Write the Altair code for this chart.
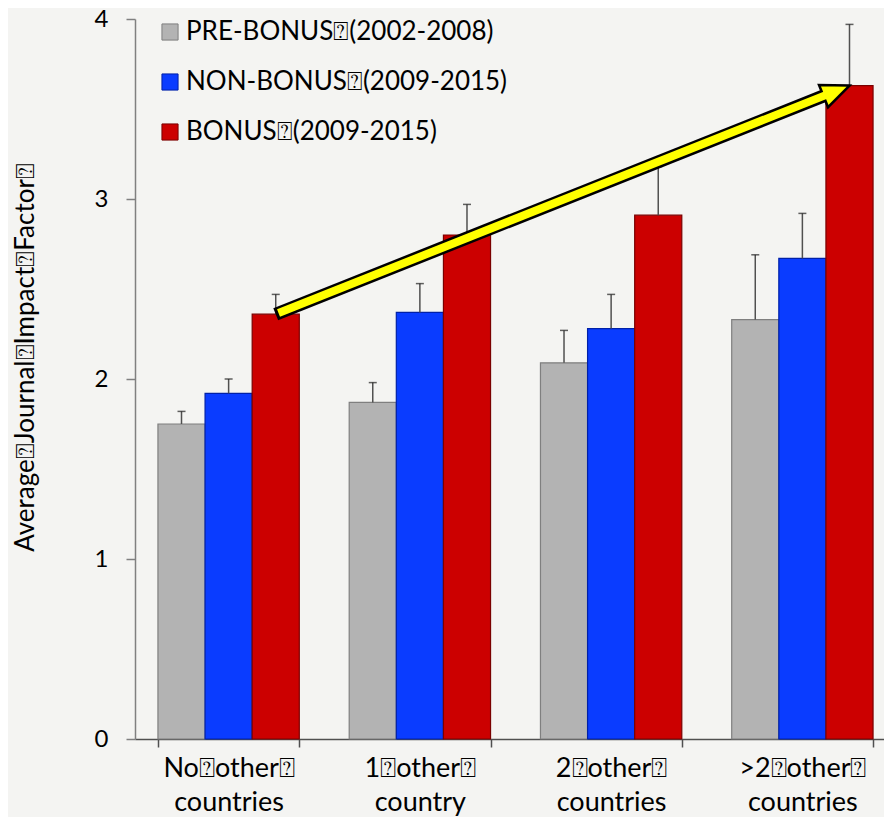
import altair as alt
import pandas as pd

groups = ["No⍰other⍰\ncountries", "1⍰other⍰\ncountry", "2⍰other⍰\ncountries", ">2⍰other⍰\ncountries"]
series = ["PRE-BONUS⍰(2002-2008)", "NON-BONUS⍰(2009-2015)", "BONUS⍰(2009-2015)"]
pre_bonus = [1.75, 1.87, 2.09, 2.33]
pre_bonus_err = [0.07, 0.11, 0.18, 0.36]
non_bonus = [1.92, 2.37, 2.28, 2.67]
non_bonus_err = [0.08, 0.16, 0.19, 0.25]
bonus = [2.36, 2.80, 2.91, 3.63]
bonus_err = [0.11, 0.17, 0.27, 0.34]
colors = ["#b3b3b3", "#0a3cff", "#cc0000"]
edge_colors = ["#7f7f7f", "#0020a8", "#7a0000"]
y_ticks = [0, 1, 2, 3, 4]
y_title = "Average⍰Journal⍰Impact⍰Factor⍰"

rows = []
for vals, errs, s in zip([pre_bonus, non_bonus, bonus], [pre_bonus_err, non_bonus_err, bonus_err], series):
    for g, v, e in zip(groups, vals, errs):
        rows.append({"group": g, "series": s, "value": v, "upper": v + e})
df = pd.DataFrame(rows)

arrow_df = pd.DataFrame({"group": [groups[0], groups[-1]], "series": [series[2], series[2]],
                         "value": [bonus[0], bonus[-1]]})
head_df = arrow_df.iloc[[1]]

FONT = "Lato"

x_enc = alt.X("group:N", sort=groups, title=None,
              scale=alt.Scale(paddingInner=0.261, paddingOuter=0.12, range=[0, 761]),
              axis=alt.Axis(labelExpr="split(datum.label, '\\n')", labelAngle=0,
                            labelFontSize=27, labelFont=FONT, labelColor="black",
                            labelLineHeight=34, labelPadding=8, tickBand="extent",
                            tickSize=8, tickColor="#505050", domainColor="#505050",
                            domainWidth=1.5, tickWidth=1.5))
xo_enc = alt.XOffset("series:N", sort=series)
y_scale = alt.Scale(domain=[0, 4])

bars = alt.Chart(df).mark_bar(strokeWidth=1.2).encode(
    x=x_enc, xOffset=xo_enc,
    y=alt.Y("value:Q", scale=y_scale, title=y_title,
            axis=alt.Axis(values=y_ticks, format="d", grid=False, labelFontSize=24, labelFont=FONT,
                          labelColor="black", labelPadding=18, tickSize=9,
                          tickColor="#808080", domainColor="#808080", domainWidth=1.5,
                          tickWidth=1.5, titleFont=FONT, titleFontSize=26,
                          titleFontWeight="normal", titleColor="black",
                          titleX=-110, titleY=338, titleAlign="center",
                          titleBaseline="middle")),
    color=alt.Color("series:N", sort=series, scale=alt.Scale(domain=series, range=colors),
                    legend=alt.Legend(title=None, orient="none", legendX=22, legendY=0,
                                      symbolType="square", symbolSize=260,
                                      symbolStrokeColor="#555555", symbolStrokeWidth=1,
                                      labelFont=FONT, labelFontSize=26, labelColor="black",
                                      labelLimit=0, rowPadding=24, labelOffset=3, padding=0)),
    stroke=alt.Stroke("series:N", sort=series, scale=alt.Scale(domain=series, range=edge_colors),
                      legend=None),
)

err = alt.Chart(df).mark_rule(color="#505050", strokeWidth=1.5).encode(
    x=x_enc, xOffset=xo_enc, y=alt.Y("value:Q", scale=y_scale), y2="upper:Q")
caps = alt.Chart(df).mark_tick(color="#202020", thickness=1.5, size=8).encode(
    x=x_enc, xOffset=xo_enc, y=alt.Y("upper:Q", scale=y_scale))

shaft_black = alt.Chart(arrow_df).mark_line(color="black", strokeWidth=13, strokeDash=[600, 2000]).encode(
    x=x_enc, xOffset=xo_enc, y=alt.Y("value:Q", scale=y_scale))
head = alt.Chart(head_df).mark_point(shape="M0,0 L-1,-0.43 L-1,0.43 Z", filled=True, fill="#ffff00",
                                     stroke="black", strokeWidth=2.5, size=3136, angle=338,
                                     opacity=1).encode(
    x=x_enc, xOffset=xo_enc, y=alt.Y("value:Q", scale=y_scale))
shaft_yellow = alt.Chart(arrow_df).mark_line(color="#ffff00", strokeWidth=8,
                                             strokeDash=[0, 3, 591, 2000]).encode(
    x=x_enc, xOffset=xo_enc, y=alt.Y("value:Q", scale=y_scale))

chart = alt.layer(bars, err, caps, shaft_black, head, shaft_yellow).properties(
    width=749, height=720, background="#f4f4f2",
    padding={"left": 127, "top": 11, "right": 0, "bottom": 78},
    autosize=alt.AutoSizeParams(type="none"),
).configure_view(stroke=None)

chart.save("out.html", embed_options={"renderer": "svg", "actions": False})
